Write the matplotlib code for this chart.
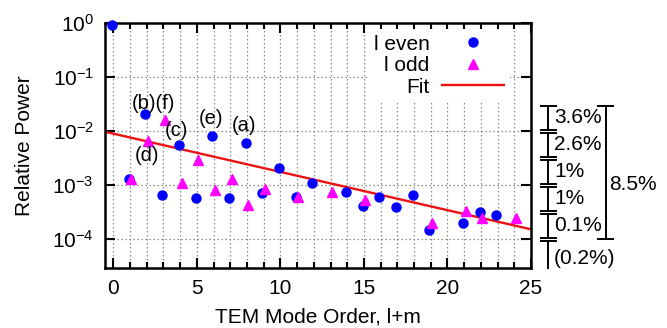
import matplotlib
matplotlib.use("Agg")
import matplotlib.pyplot as plt
import matplotlib.transforms as mtransforms
from matplotlib.ticker import FixedLocator, LogFormatterSciNotation, NullLocator
import numpy as np

plt.rcParams['font.family'] = ['Liberation Sans', 'DejaVu Sans']
plt.rcParams['mathtext.default'] = 'regular'

# ---- data ----
even_x = [0, 1, 2, 3, 4, 5, 6, 7, 8, 9, 10, 11, 12, 14, 15, 16, 17, 18, 19, 21, 22, 23]
even_y = [0.93, 0.00129, 0.021, 0.00067, 0.0056, 0.00057, 0.0083, 0.00058, 0.0061,
          0.00073, 0.0021, 0.00061, 0.00108, 0.00075, 0.00041, 0.00061, 0.00040,
          0.00065, 0.000151, 0.00020, 0.00032, 0.00028]
odd_x = [1, 2, 3, 4, 5, 6, 7, 8, 9, 11, 13, 15, 19, 21, 22, 24]
odd_y = [0.00133, 0.0066, 0.016, 0.00108, 0.0030, 0.00083, 0.00133, 0.00043, 0.00084,
         0.00060, 0.00075, 0.00054, 0.00020, 0.00033, 0.00025, 0.00025]
fit_x = [-0.5, 25]
fit_y = [0.0098, 0.000153]

point_labels = ['(b)(f)', '(c)', '(e)', '(a)', '(d)']
point_label_x = [2.4, 3.8, 5.85, 7.8, 2.0]
point_label_y = [0.033, 0.0105, 0.0173, 0.0126, 0.0036]

seg_bounds = [10**-1.5, 10**-2, 10**-2.5, 10**-3, 10**-3.5, 10**-4]
seg_labels = ['3.6%', '2.6%', '1%', '1%', '0.1%']
tail_label = '(0.2%)'
total_label = '8.5%'

xlabel = 'TEM Mode Order, l+m'
ylabel = 'Relative Power'

# ---- figure ----
fig = plt.figure(figsize=(6.67, 3.28), dpi=100)
ax = fig.add_axes([105/667, 1 - 267.5/328, 426/667, (267.5 - 23.3)/328])

ax.set_yscale('log')
ax.set_xlim(-0.5, 25)
ax.set_ylim(3.0e-5, 1.0)

# grid
for gx in range(0, 25):
    ax.axvline(gx, color='#888888', ls=(0, (1.2, 2.0)), lw=0.9, zorder=0)
for gy in [1e-1, 1e-2, 1e-3, 1e-4]:
    ax.axhline(gy, color='#888888', ls=(0, (1.2, 2.0)), lw=0.9, zorder=0)

dx = 0.08
ax.plot(np.array(even_x) - dx, even_y, 'o', color='#0000ff', ms=6.5, ls='none',
        label='l even', zorder=3, clip_on=False)
ax.plot(np.array(odd_x) + dx, odd_y, '^', color='#ff00ff', ms=6.8, ls='none',
        label='l odd', zorder=3)
ax.plot(fit_x, fit_y, '-', color='#ee1111', lw=1.7, label='Fit', zorder=2)

for t, x, y in zip(point_labels, point_label_x, point_label_y):
    ax.text(x, y, t, ha='center', va='center', fontsize=14.5, zorder=4)

# ticks
ax.xaxis.set_major_locator(FixedLocator([0, 5, 10, 15, 20, 25]))
ax.xaxis.set_minor_locator(FixedLocator(list(range(0, 26))))
ax.yaxis.set_major_locator(FixedLocator([1e-4, 1e-3, 1e-2, 1e-1, 1e0]))
ax.yaxis.set_major_formatter(LogFormatterSciNotation())
ax.yaxis.set_minor_locator(NullLocator())
ax.tick_params(which='both', direction='in', top=True, right=True, width=1.5)
ax.tick_params(which='major', length=7, labelsize=15, pad=8)
ax.tick_params(which='minor', length=4)
for s in ax.spines.values():
    s.set_linewidth(1.8)

ax.set_xlabel(xlabel, fontsize=15, labelpad=7)
ax.set_ylabel(ylabel, fontsize=15, labelpad=13)

leg = ax.legend(loc='upper right', bbox_to_anchor=(0.95, 0.975), markerfirst=False,
                frameon=True, fontsize=15, handlelength=3.0, handletextpad=0.6,
                borderpad=0.25, labelspacing=0.12, borderaxespad=0.0)
leg.get_frame().set_edgecolor('none')
leg.get_frame().set_facecolor('white')
leg.get_frame().set_alpha(1.0)
for t in leg.get_texts():
    t.set_ha('right')
leg._legend_box.align = 'right'

# right-side bracket annotation
tr = mtransforms.blended_transform_factory(ax.transAxes, ax.transData)
bx = 1.041
cw = 0.018
inset = 10**0.03
for i, lab in enumerate(seg_labels):
    top = seg_bounds[i] / inset
    bot = seg_bounds[i + 1] * inset
    ax.plot([bx, bx], [top, bot], color='black', lw=1.4, transform=tr, clip_on=False)
    ax.plot([bx - cw, bx + cw], [top, top], color='black', lw=1.4, transform=tr, clip_on=False)
    ax.plot([bx - cw, bx + cw], [bot, bot], color='black', lw=1.4, transform=tr, clip_on=False)
    ym = np.sqrt(top * bot)
    ax.text(bx + 0.013, ym, lab, transform=tr, fontsize=15, ha='left', va='center')
tt = seg_bounds[-1] / inset
ax.plot([bx, bx], [tt, 2.9e-5], color='black', lw=1.4, transform=tr, clip_on=False)
ax.plot([bx - cw, bx + cw], [tt, tt], color='black', lw=1.4, transform=tr, clip_on=False)
ax.text(bx + 0.013, 10**-4.36, tail_label, transform=tr, fontsize=15, ha='left', va='center')

bx2 = 1.175
ax.plot([bx2, bx2], [seg_bounds[0] / inset, seg_bounds[-1]], color='black', lw=1.4,
        transform=tr, clip_on=False)
for yy in [seg_bounds[0] / inset, seg_bounds[-1]]:
    ax.plot([bx2 - cw, bx2 + cw], [yy, yy], color='black', lw=1.4, transform=tr, clip_on=False)
ax.text(bx2 + 0.008, 10**-2.98, total_label, transform=tr, fontsize=15, ha='left', va='center')

fig.savefig('out.png', dpi=100)
